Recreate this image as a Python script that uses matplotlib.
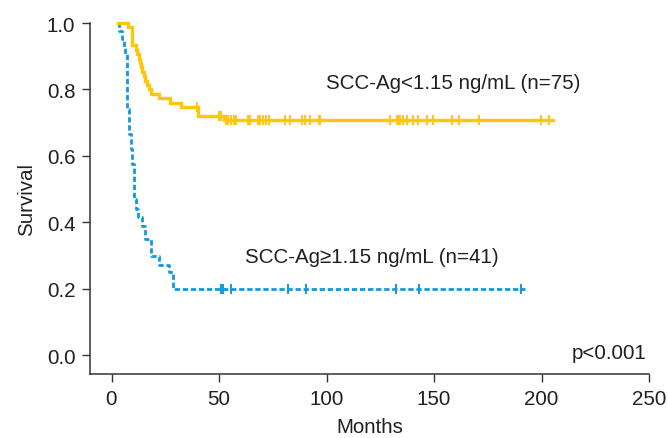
import numpy as np
import matplotlib
matplotlib.use("Agg")
import matplotlib.pyplot as plt

plt.rcParams['font.family'] = ['Liberation Sans', 'DejaVu Sans']

# ---- data ----
low_times = [2.8, 7.5, 9.5, 11.4, 12.0, 12.6, 13.2, 13.7, 14.4, 15.2, 15.8, 16.5,
             17.6, 18.4, 22.2, 27.4, 32.3, 40.0, 52.5]
low_surv = [1.0, 0.987, 0.933, 0.920, 0.907, 0.893, 0.880, 0.867, 0.853, 0.840, 0.827,
            0.813, 0.800, 0.787, 0.773, 0.760, 0.747, 0.720, 0.707]
low_end = 205.5
low_censor = [39.8, 50.2, 51.0, 53.3, 54.1, 55.6, 57.2, 58.0, 63.5, 64.2, 68.0, 69.2,
              70.4, 71.9, 73.3, 80.5, 82.8, 88.7, 89.8, 92.1, 96.5, 97.1, 129.4, 132.9,
              133.3, 134.1, 135.6, 137.4, 140.1, 142.6, 146.9, 149.5, 158.2, 161.7,
              171.0, 199.7, 203.7]

high_times = [3.0, 3.6, 4.7, 5.9, 6.4, 7.2, 8.2, 9.0, 9.6, 10.6, 11.4, 12.2, 14.0,
              15.5, 18.4, 22.2, 26.9, 28.4]
high_surv = [1.0, 0.976, 0.951, 0.927, 0.907, 0.74, 0.666, 0.62, 0.575, 0.47, 0.44,
             0.415, 0.39, 0.35, 0.30, 0.272, 0.25, 0.20]
high_end = 192.5
high_censor = [51.0, 52.0, 55.6, 82.0, 90.6, 132.5, 143.1, 190.5]

x_ticks = [0, 50, 100, 150, 200, 250]
y_ticks = [0.0, 0.2, 0.4, 0.6, 0.8, 1.0]
label_low = "SCC-Ag<1.15 ng/mL (n=75)"
label_high = "SCC-Ag\u22651.15 ng/mL (n=41)"
p_text = "p<0.001"

YELLOW = '#FFC60B'
BLUE = '#109BDD'
TXT = '#231F20'
FS = 14.8


def step_at(times, surv, t):
    i = np.searchsorted(times, t, side='right') - 1
    return np.asarray(surv)[i]


fig = plt.figure(figsize=(6.68, 4.39), dpi=100)
ax = fig.add_axes([90 / 668, 1 - 375 / 439, (649 - 90) / 668, (375 - 24) / 439])

# high group (dashed blue)
ht = list(high_times) + [high_end]
hs = list(high_surv) + [high_surv[-1]]
ax.plot(ht, hs, drawstyle='steps-post', color=BLUE, lw=2.0,
        linestyle=(0, (1.9, 1.0)), zorder=2, clip_on=False)
hc = np.array(high_censor)
ax.plot(hc, step_at(high_times, high_surv, hc), linestyle='none', marker='|',
        markersize=7.5, mew=1.4, color=BLUE, zorder=2, clip_on=False)

# low group (solid yellow)
lt = list(low_times) + [low_end]
ls = list(low_surv) + [low_surv[-1]]
ax.plot(lt, ls, drawstyle='steps-post', color=YELLOW, lw=2.4, zorder=3,
        clip_on=False, solid_joinstyle='miter')
lc = np.array(low_censor)
ax.plot(lc, step_at(low_times, low_surv, lc), linestyle='none', marker='|',
        markersize=7.5, mew=1.4, color=YELLOW, zorder=3, clip_on=False)

ax.set_xlim(-10, 250)
ax.set_ylim(-0.056, 1.0)
ax.set_xticks(x_ticks)
ax.set_yticks(y_ticks)
ax.set_xticklabels([str(v) for v in x_ticks])
ax.set_yticklabels([f"{v:.1f}" for v in y_ticks])

for s in ['top', 'right']:
    ax.spines[s].set_visible(False)
for s in ['left', 'bottom']:
    ax.spines[s].set_color('#333333')
    ax.spines[s].set_linewidth(1.1)

ax.tick_params(axis='both', direction='out', length=5.5, width=1.0, color='#333333',
               labelsize=FS, labelcolor=TXT)
ax.tick_params(axis='y', pad=5)
ax.tick_params(axis='x', pad=5)

ax.set_xlabel("Months", fontsize=FS, color=TXT, labelpad=7)
ax.set_ylabel("Survival", fontsize=FS, color=TXT, labelpad=8)

ax.text(99.6, 0.82, label_low, fontsize=FS, color=TXT, ha='left', va='center')
ax.text(62.3, 0.297, label_high, fontsize=FS, color=TXT, ha='left', va='center')
ax.text(249, 0.01, p_text, fontsize=FS, color=TXT, ha='right', va='center')

fig.savefig("out.png", dpi=100)
